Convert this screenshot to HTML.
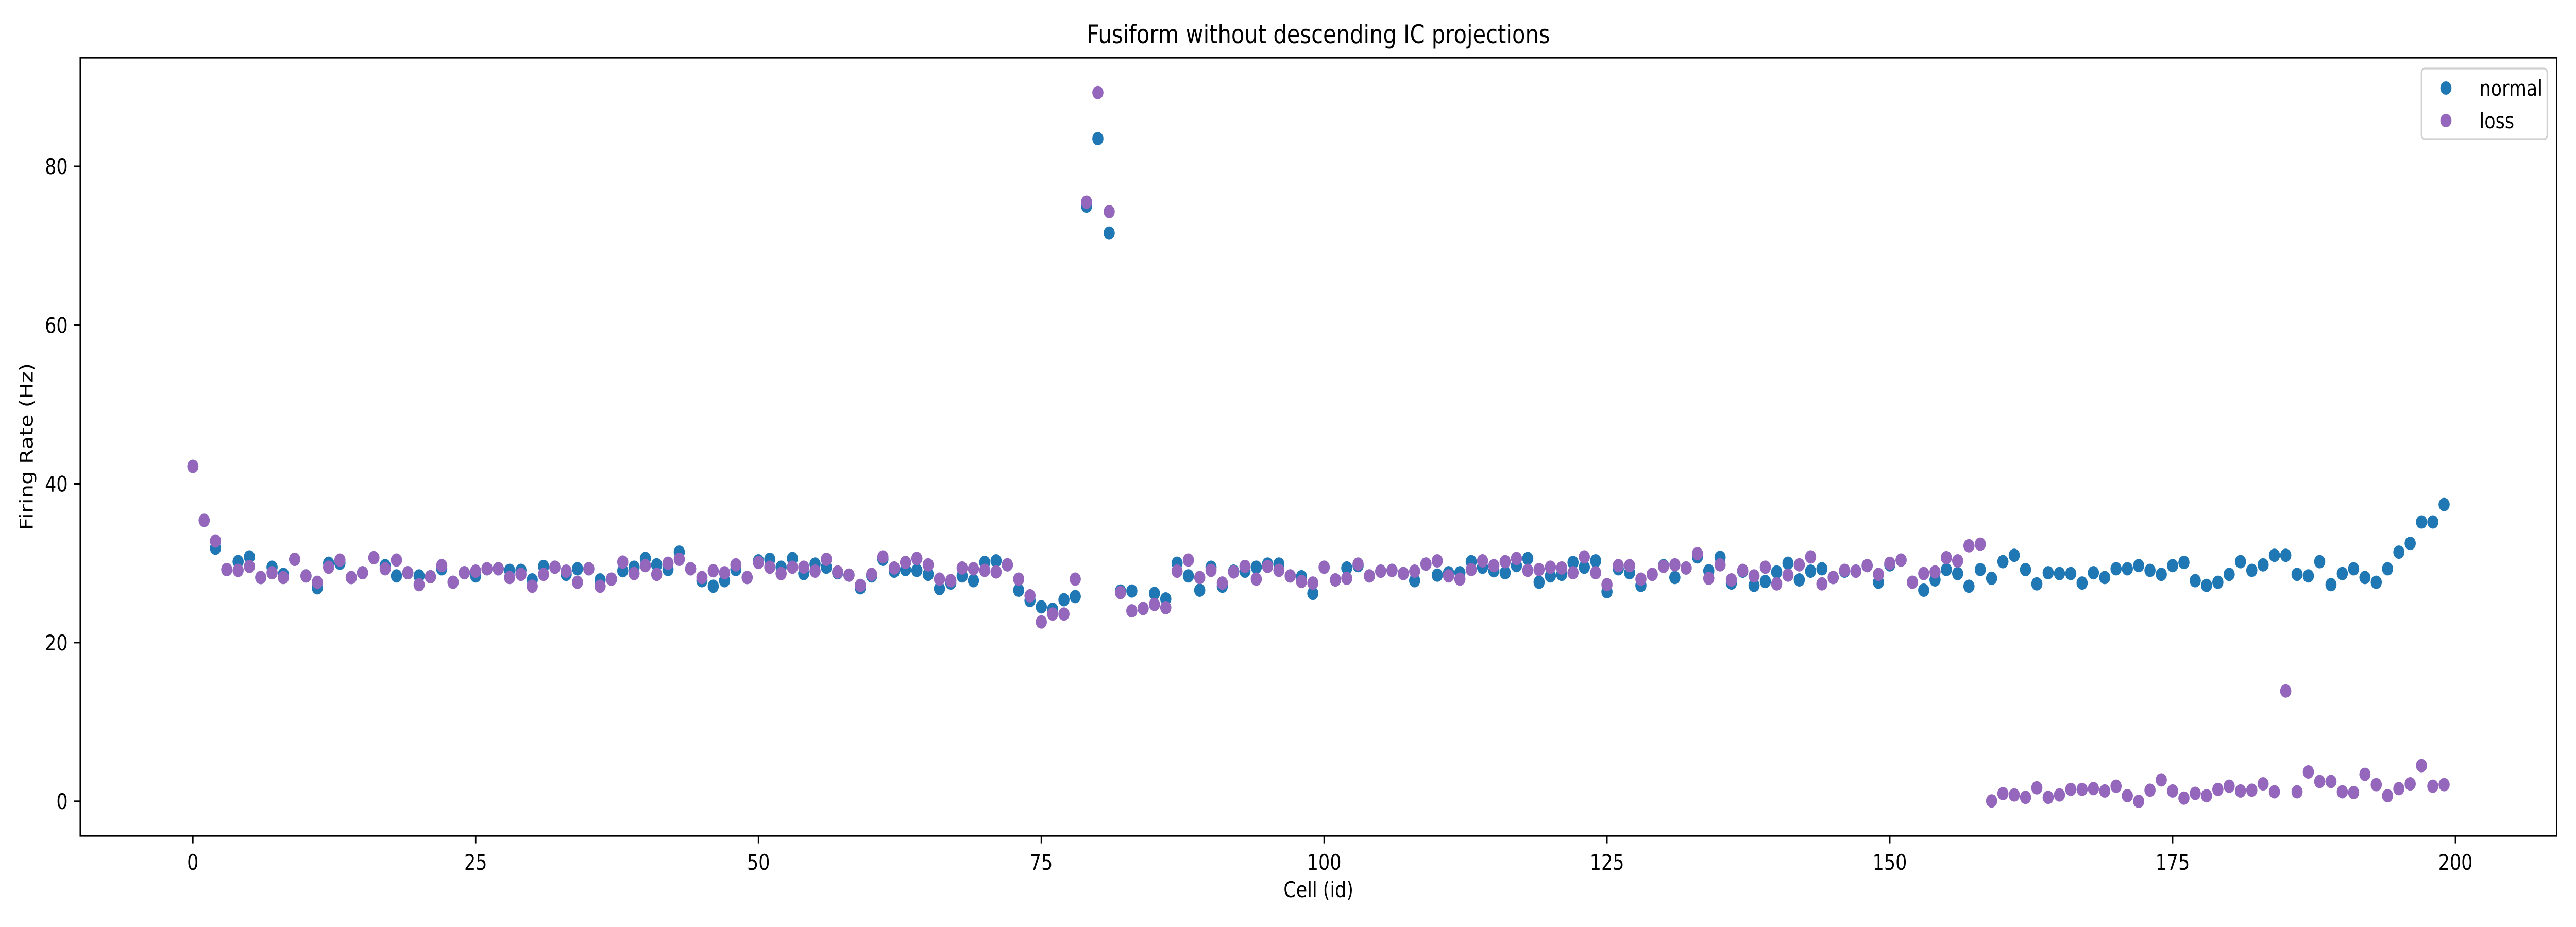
<!DOCTYPE html>
<html>
<head>
<meta charset="utf-8">
<style>
html,body{margin:0;padding:0;background:#fff;overflow:hidden;width:100vw;height:100vh;}
svg{display:block;width:100vw;height:100vh;}
text{font-family:"DejaVu Sans","Liberation Sans",sans-serif;fill:#000;}
</style>
</head>
<body>
<svg id="chart" viewBox="0 0 6000 1800" preserveAspectRatio="none" xmlns="http://www.w3.org/2000/svg">
  <rect x="0" y="0" width="6000" height="1800" fill="#fff"/>
  <text x="3071" y="84" font-size="50" text-anchor="middle">Fusiform without descending IC projections</text>
  <g id="marks"></g>
  <g id="axes"></g>
  <text x="3071" y="1742" font-size="42" text-anchor="middle">Cell (id)</text>
  <text x="76" y="867" font-size="42" text-anchor="middle" transform="rotate(-90 76 867)">Firing Rate (Hz)</text>
  <g>
    <rect x="5640" y="133" width="293" height="137" rx="8" fill="#fff" fill-opacity="0.8" stroke="#d0d0d0" stroke-width="3.3"/>
    <g>
      <circle cx="5697" cy="171" r="13" fill="#1f77b4"/>
      <text x="5775" y="186" font-size="42">normal</text>
    </g>
    <g>
      <circle cx="5697" cy="234" r="13" fill="#9467bd"/>
      <text x="5775" y="249" font-size="42">loss</text>
    </g>
  </g>
</svg>
<script>
const normalValues = [42.2,35.4,31.9,29.2,30.2,30.8,28.2,29.5,28.6,30.5,28.4,26.9,30.0,30.0,28.2,28.8,30.7,29.7,28.4,28.8,
28.4,28.3,29.3,27.6,28.8,28.4,29.3,29.3,29.1,29.1,27.9,29.6,29.5,28.6,29.3,29.3,27.9,28.0,29.05,29.5,
30.6,29.8,29.2,31.4,29.3,27.8,27.1,27.8,29.2,28.2,30.3,30.5,29.5,30.6,28.7,29.9,29.5,28.8,28.5,26.9,
28.4,30.5,29.0,29.2,29.1,28.6,26.8,27.5,28.4,27.8,30.1,30.3,29.8,26.6,25.3,24.5,24.2,25.4,25.8,75.0,
83.5,71.6,26.5,26.5,24.3,26.2,25.5,30.0,28.4,26.6,29.5,27.1,29.0,29.0,29.5,29.9,29.9,28.4,28.3,26.2,
29.5,27.9,29.4,29.7,28.4,29.0,29.1,28.7,27.8,29.9,28.5,28.8,28.8,30.2,29.5,29.05,28.8,29.7,30.6,27.6,
28.4,28.6,30.1,29.5,30.3,26.4,29.3,28.8,27.2,28.6,29.7,28.2,29.4,30.8,29.05,30.75,27.5,29.0,27.2,27.7,
28.9,30.0,27.9,29.0,29.3,28.2,29.0,29.0,29.7,27.6,29.8,30.4,27.6,26.6,27.9,29.2,28.7,27.1,29.2,28.1,
30.2,31.0,29.2,27.4,28.8,28.7,28.7,27.5,28.8,28.2,29.3,29.3,29.7,29.1,28.6,29.7,30.1,27.8,27.2,27.6,
28.6,30.2,29.1,29.8,31.0,31.0,28.6,28.4,30.2,27.3,28.7,29.3,28.2,27.6,29.3,31.4,32.5,35.2,35.2,37.4];
const lossValues = [42.2,35.4,32.8,29.2,29.1,29.6,28.2,28.8,28.2,30.5,28.4,27.6,29.5,30.4,28.2,28.8,30.7,29.3,30.4,28.8,
27.3,28.3,29.7,27.6,28.8,29.0,29.3,29.3,28.2,28.6,27.1,28.6,29.5,29.0,27.6,29.3,27.1,28.0,30.15,28.7,
29.7,28.6,30.0,30.5,29.3,28.2,29.05,28.8,29.8,28.2,30.1,29.5,28.7,29.5,29.5,29.0,30.5,28.9,28.5,27.2,
28.6,30.8,29.4,30.1,30.6,29.8,28.0,27.8,29.4,29.3,29.1,28.9,29.8,28.0,25.9,22.6,23.6,23.6,28.0,75.5,
89.3,74.3,26.3,24.0,24.3,24.8,24.4,29.0,30.4,28.2,29.1,27.5,28.9,29.6,28.0,29.6,29.1,28.4,27.7,27.5,
29.5,27.9,28.1,29.9,28.4,29.0,29.1,28.7,29.0,29.9,30.3,28.4,28.0,29.2,30.3,29.7,30.2,30.6,29.1,29.2,
29.5,29.4,28.8,30.8,28.8,27.3,29.7,29.7,28.0,28.6,29.6,29.8,29.4,31.2,28.1,29.8,27.9,29.1,28.4,29.5,
27.4,28.5,29.8,30.8,27.4,28.2,29.1,29.0,29.7,28.6,29.99,30.4,27.6,28.7,28.9,30.7,30.3,32.2,32.4,0.05,
0.97,0.8,0.5,1.7,0.5,0.8,1.5,1.5,1.6,1.3,1.9,0.7,0.0,1.4,2.7,1.3,0.4,1.0,0.7,1.5,
1.9,1.3,1.4,2.2,1.2,13.9,1.2,3.7,2.5,2.5,1.2,1.1,3.4,2.1,0.7,1.6,2.2,4.5,1.9,2.1];
const xTicks = [0,25,50,75,100,125,150,175,200];
const yTicks = [0,20,40,60,80];

const AX = {left:187, top:112, right:5955, bottom:1623};
const XMIN = -9.95, XMAX = 208.95, YMIN = -4.35, YMAX = 93.7;
function xScale(v){ return AX.left + (v - XMIN) / (XMAX - XMIN) * (AX.right - AX.left); }
function yScale(v){ return AX.bottom - (v - YMIN) / (YMAX - YMIN) * (AX.bottom - AX.top); }

const NS = "http://www.w3.org/2000/svg";
const marks = document.getElementById('marks');
const axes = document.getElementById('axes');
function mk(tag, attrs, parent){
  const el = document.createElementNS(NS, tag);
  for (const k in attrs) el.setAttribute(k, attrs[k]);
  parent.appendChild(el);
  return el;
}

const gN = mk('g', {}, marks);


normalValues.forEach((v, i) => {
  const c = mk('circle', {cx: xScale(i), cy: yScale(v), r: 13, fill: '#1f77b4'}, gN);
  
  
});
const gL = mk('g', {}, marks);


lossValues.forEach((v, i) => {
  const c = mk('circle', {cx: xScale(i), cy: yScale(v), r: 13, fill: '#9467bd'}, gL);
  
  
});

const frame = mk('rect', {x: AX.left, y: AX.top, width: AX.right - AX.left, height: AX.bottom - AX.top, fill: 'none', stroke: '#000', 'stroke-width': 3.3}, axes);



xTicks.forEach(t => {
  const x = xScale(t);
  const ln = mk('line', {x1: x, x2: x, y1: AX.bottom, y2: AX.bottom + 14.6, stroke: '#000', 'stroke-width': 3.3}, axes);
  
  
  const tx = mk('text', {x: x, y: AX.bottom + 66, 'font-size': 42, 'text-anchor': 'middle'}, axes);
  tx.textContent = String(t);
  
  
});
yTicks.forEach(t => {
  const y = yScale(t);
  const ln = mk('line', {x1: AX.left - 14.6, x2: AX.left, y1: y, y2: y, stroke: '#000', 'stroke-width': 3.3}, axes);
  
  
  const tx = mk('text', {x: AX.left - 29, y: y + 15, 'font-size': 42, 'text-anchor': 'end'}, axes);
  tx.textContent = String(t);
  
  
});
</script>
</body>
</html>
